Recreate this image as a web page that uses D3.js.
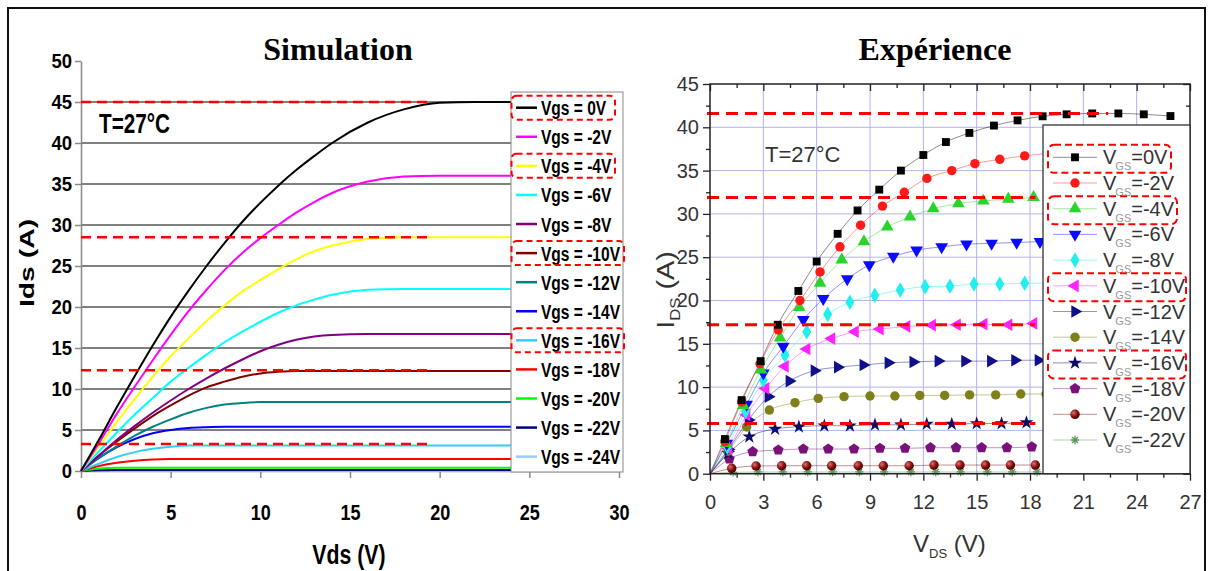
<!DOCTYPE html>
<html><head><meta charset="utf-8">
<script src="https://cdn.jsdelivr.net/npm/d3@7"></script>
<style>body{margin:0;background:#fff}svg{display:block}</style>
</head><body><svg id="c" width="1213" height="571"></svg>
<script>
// ---------- Simulation data ----------
const simVds = [0,1,2,3,4,5,6,7,8,9,10,11,12,13,14,16,18,20,22,24];
const simLabels = ["Vgs = 0V","Vgs = -2V","Vgs = -4V","Vgs = -6V","Vgs = -8V","Vgs = -10V","Vgs = -12V","Vgs = -14V","Vgs = -16V","Vgs = -18V","Vgs = -20V","Vgs = -22V","Vgs = -24V"];
const simIds0  = [0,3.8,7.8,11.6,15.3,18.8,22.0,25.0,27.8,30.4,32.7,34.8,36.7,38.4,40.0,42.5,44.1,44.9,45,45];
const simIds2  = [0,3.4,7.0,10.3,13.5,16.6,19.5,22.1,24.5,26.6,28.4,30.0,31.5,32.8,33.9,35.3,35.9,36,36,36];
const simIds4  = [0,3.0,6.0,8.8,11.5,14.0,16.2,18.3,20.2,21.9,23.3,24.6,25.8,26.8,27.5,28.3,28.5,28.5,28.5,28.5];
const simIds6  = [0,2.4,4.7,6.9,8.9,10.9,12.6,14.2,15.7,17.0,18.2,19.3,20.2,20.9,21.5,22.1,22.2,22.2,22.2,22.2];
const simIds8  = [0,1.9,3.8,5.5,7.1,8.6,10.0,11.3,12.5,13.6,14.6,15.4,16.0,16.4,16.6,16.7,16.7,16.7,16.7,16.7];
const simIds10 = [0,1.9,3.6,5.2,6.7,8.0,9.2,10.2,10.9,11.5,11.9,12.1,12.2,12.2,12.2,12.2,12.2,12.2,12.2,12.2];
const simIds12 = [0,1.6,3.0,4.3,5.4,6.3,7.1,7.7,8.1,8.3,8.4,8.4,8.4,8.4,8.4,8.4,8.4,8.4,8.4,8.4];
const simIds14 = [0,1.6,2.9,3.9,4.6,5.0,5.25,5.35,5.4,5.4,5.4,5.4,5.4,5.4,5.4,5.4,5.4,5.4,5.4,5.4];
const simIds16 = [0,0.9,1.7,2.3,2.7,2.95,3.1,3.1,3.1,3.1,3.1,3.1,3.1,3.1,3.1,3.1,3.1,3.1,3.1,3.1];
const simIds18 = [0,0.6,1.0,1.25,1.4,1.45,1.45,1.45,1.45,1.45,1.45,1.45,1.45,1.45,1.45,1.45,1.45,1.45,1.45,1.45];
const simIds20 = [0,0.3,0.4,0.4,0.4,0.4,0.4,0.4,0.4,0.4,0.4,0.4,0.4,0.4,0.4,0.4,0.4,0.4,0.4,0.4];
const simIds22 = [0,0.1,0.12,0.12,0.12,0.12,0.12,0.12,0.12,0.12,0.12,0.12,0.12,0.12,0.12,0.12,0.12,0.12,0.12,0.12];
const simIds24 = [0,0.03,0.04,0.04,0.04,0.04,0.04,0.04,0.04,0.04,0.04,0.04,0.04,0.04,0.04,0.04,0.04,0.04,0.04,0.04];
const simSeries = [simIds0,simIds2,simIds4,simIds6,simIds8,simIds10,simIds12,simIds14,simIds16,simIds18,simIds20,simIds22,simIds24];
const simColors = ["#000000","#ff00ff","#ffff00","#00ffff","#800080","#800000","#008080","#0000ff","#33ccff","#ff0000","#00ff00","#000080","#99ccff"];
const simTicksY = [0,5,10,15,20,25,30,35,40,45,50];
const simTicksX = [0,5,10,15,20,25,30];
const simGridY = [5,10,15,20,25,30,35,40,45];
const simDashLevels = [45,28.5,12.3,3.3];
const simDashEnd = 19.3;
const simBoxed = [0,2,5,8];

// ---------- Experimental data ----------
const expLabels = ["=0V","=-2V","=-4V","=-6V","=-8V","=-10V","=-12V","=-14V","=-16V","=-18V","=-20V","=-22V"];
const expV0  = [0,0.84,1.78,2.85,3.81,4.97,6.0,7.18,8.3,9.52,10.74,12.0,13.27,14.59,15.97,17.3,18.71,20.06,21.5,22.97,24.4,25.9];
const expI0  = [0,4.0,8.5,13.0,17.2,21.1,24.5,27.7,30.4,32.8,35.0,36.8,38.3,39.35,40.2,40.8,41.27,41.5,41.6,41.6,41.5,41.3];
const expV2  = [0,0.84,1.78,2.81,3.84,5.06,6.19,7.31,8.47,9.7,10.93,12.2,13.6,14.9,16.3,17.7,19.1];
const expI2  = [0,3.7,8.3,12.7,16.6,20.0,23.3,26.2,28.7,30.9,32.5,34.1,35.0,35.8,36.3,36.7,37.0];
const expV4  = [0,0.9,1.87,2.87,3.94,5.02,6.19,7.41,8.66,9.97,11.25,12.56,13.97,15.37,16.78,18.2];
const expI4  = [0,3.5,7.9,12.0,15.7,19.2,22.0,24.7,26.8,28.5,29.65,30.6,31.2,31.5,31.7,31.9];
const expV6  = [0,0.94,2.06,3.0,4.12,5.25,6.37,7.72,8.96,10.31,11.62,13.03,14.43,15.84,17.25,18.56];
const expI6  = [0,3.5,8.0,11.6,14.7,17.8,20.2,22.5,24.1,25.1,25.8,26.2,26.5,26.6,26.7,26.8];
const expV8  = [0,0.97,2.0,3.0,4.22,5.44,6.62,7.87,9.27,10.7,12.1,13.5,14.85,16.3,17.7,19.1];
const expI8  = [0,3.1,7.2,10.8,13.7,16.4,18.4,19.8,20.6,21.2,21.6,21.65,21.9,21.9,22.0,22.0];
const expV10 = [0,1.05,2.06,3.13,4.22,5.44,6.84,8.16,9.56,11.06,12.5,13.9,15.4,16.8,18.2];
const expI10 = [0,2.9,6.8,9.85,12.4,14.4,15.6,16.4,16.7,17.0,17.15,17.2,17.27,17.2,17.35];
const expV12 = [0,1.03,2.16,3.28,4.46,5.87,7.18,8.62,10.03,11.43,12.84,14.34,15.79,17.15,18.47];
const expI12 = [0,2.8,6.2,8.9,10.7,11.9,12.3,12.55,12.8,12.9,13.0,13.0,13.0,13.1,13.1];
const expV14 = [0,1.03,2.06,3.34,4.78,6.09,7.54,9.0,10.4,11.8,13.2,14.6,16.07,17.48,18.9];
const expI14 = [0,2.6,5.4,7.35,8.2,8.7,8.9,8.97,8.97,9.04,9.04,9.1,9.1,9.2,9.2];
const expV16 = [0,1.03,2.21,3.66,5.0,6.43,7.87,9.28,10.74,12.19,13.6,15.0,16.4,17.8];
const expI16 = [0,2.35,4.27,5.16,5.42,5.54,5.54,5.65,5.65,5.73,5.73,5.8,5.8,5.9];
const expV18 = [0,1.09,2.4,3.84,5.25,6.65,8.1,9.56,10.97,12.4,13.84,15.28,16.7,18.1];
const expI18 = [0,1.7,2.54,2.73,2.85,2.85,2.85,2.93,2.93,3.0,3.0,3.0,3.0,3.1];
const expV20 = [0,1.22,2.59,4.03,5.44,6.84,8.34,9.75,11.2,12.6,14.06,15.5,16.9,18.3];
const expI20 = [0,0.62,0.89,0.92,0.92,0.92,0.92,0.92,0.92,1.0,1.0,1.0,1.0,1.0];
const expV22 = [0,1.3,2.7,4.1,5.5,6.9,8.4,9.8,11.3,12.7,14.1,15.6,17.0,18.4];
const expI22 = [0,0.15,0.2,0.2,0.2,0.2,0.2,0.2,0.2,0.2,0.2,0.2,0.2,0.2];
const expVs = [expV0,expV2,expV4,expV6,expV8,expV10,expV12,expV14,expV16,expV18,expV20,expV22];
const expIs = [expI0,expI2,expI4,expI6,expI8,expI10,expI12,expI14,expI16,expI18,expI20,expI22];
const expColors = ["#000000","#ff1a1a","#2ad42a","#0a0aff","#22eeee","#ff22ff","#10108a","#80801a","#0c0c66","#7a107a","#800000","#5a9a5a"];
const expShapes = ["square","circle","triUp","triDown","diamond","triLeft","triRight","circle","star","pentagon","sphere","asterisk"];
const expTicksY = [0,5,10,15,20,25,30,35,40,45];
const expMinorY = [2.5,7.5,12.5,17.5,22.5,27.5,32.5,37.5,42.5];
const expTicksX = [0,3,6,9,12,15,18,21,24,27];
const expMinorX = [1.5,4.5,7.5,10.5,13.5,16.5,19.5,22.5,25.5];
const expDashLevels = [41.6,31.9,17.2,5.8];
const expDashEnds = [22.4,18.3,18.3,18.3];
const expBoxed = [0,2,5,8];

const svg = d3.select("#c");
const defs = svg.append("defs");
const rg = defs.append("radialGradient").attr("id","sph").attr("cx","35%").attr("cy","35%").attr("r","65%");
rg.append("stop").attr("offset","0%").attr("stop-color","#e07070");
rg.append("stop").attr("offset","60%").attr("stop-color","#8a1010");
rg.append("stop").attr("offset","100%").attr("stop-color","#500000");

const SANS = "'Liberation Sans', Arial, sans-serif";
const SERIF = "'Liberation Serif', 'Times New Roman', serif";

// outer frame
svg.append("rect").attr("x",8).attr("y",8).attr("width",1197).attr("height",600)
  .attr("fill","none").attr("stroke","#111").attr("stroke-width",2);

// titles
svg.append("text").attr("x",338).attr("y",60).attr("text-anchor","middle")
  .style("font-family",SERIF).style("font-weight","bold").style("font-size","32px").text("Simulation");
svg.append("text").attr("x",935).attr("y",60).attr("text-anchor","middle")
  .style("font-family",SERIF).style("font-weight","bold").style("font-size","32px").text("Expérience");

// ================= LEFT PANEL =================
const xL = d3.scaleLinear().domain([0,30]).range([81,619]);
const yL = d3.scaleLinear().domain([0,50]).range([471,61]);
const gL = svg.append("g");
gL.selectAll("line.grid").data(simGridY).join("line")
  .attr("x1",xL(0)).attr("x2",xL(30)).attr("y1",d=>yL(d)).attr("y2",d=>yL(d))
  .attr("stroke","#000").attr("stroke-width",1);

const axL = gL.append("g").attr("transform",`translate(${xL(0)},0)`)
  .call(d3.axisLeft(yL).tickValues(simTicksY).tickSize(6).tickSizeOuter(0));
const axB = gL.append("g").attr("transform",`translate(0,${yL(0)})`)
  .call(d3.axisBottom(xL).tickValues(simTicksX).tickSize(7).tickSizeOuter(0));
[axL,axB].forEach(a=>{
  a.select(".domain").attr("stroke","#888").attr("stroke-width",1.5);
  a.selectAll(".tick line").attr("stroke","#888").attr("stroke-width",1.5);
  a.selectAll("text").style("font-family",SANS).style("font-weight","bold").attr("fill","#000");
});
axL.selectAll("text").style("font-size","21px").attr("x",-9/0.88).attr("transform","scale(0.88,1)");
axB.selectAll("text").style("font-size","22px").attr("y",49).attr("dy",0).attr("transform","scale(0.82,1)");

const lineL = d3.line().x(d=>xL(d[0])).y(d=>yL(d[1])).curve(d3.curveMonotoneX);
const simData = simSeries.map(s=>simVds.map((v,i)=>[v,s[i]]));
gL.selectAll("path.sim").data(simData.slice().reverse()).join("path")
  .attr("d",lineL).attr("fill","none")
  .attr("stroke",(d,i)=>simColors[simColors.length-1-i]).attr("stroke-width",2);

gL.selectAll("line.dash").data(simDashLevels).join("line")
  .attr("x1",xL(0)).attr("x2",xL(simDashEnd)).attr("y1",d=>yL(d)).attr("y2",d=>yL(d))
  .attr("stroke","#ff0000").attr("stroke-width",2.5).attr("stroke-dasharray","10,6");

gL.append("text").attr("transform","translate(99,133) scale(0.74,1)")
  .style("font-family",SANS).style("font-weight","bold").style("font-size","28px").text("T=27°C");
gL.append("text").attr("transform","translate(34,263) rotate(-90) scale(1.35,1)").attr("text-anchor","middle")
  .style("font-family",SANS).style("font-weight","bold").style("font-size","21px").text("Ids (A)");
gL.append("text").attr("transform","translate(349,564) scale(0.76,1)").attr("text-anchor","middle")
  .style("font-family",SANS).style("font-weight","bold").style("font-size","28px").text("Vds (V)");

// left legend
const legL = gL.append("g");
legL.append("rect").attr("x",511).attr("y",92).attr("width",112).attr("height",380)
  .attr("fill","#fff").attr("stroke","#888").attr("stroke-width",1);
const rowL = i => 107.7 + 29.08*i;
simLabels.forEach((lab,i)=>{
  legL.append("line").attr("x1",516).attr("x2",537).attr("y1",rowL(i)).attr("y2",rowL(i))
    .attr("stroke",simColors[i]).attr("stroke-width",2.5);
  legL.append("text").attr("transform",`translate(541,${rowL(i)+7.5}) scale(0.74,1)`)
    .style("font-family",SANS).style("font-weight","bold").style("font-size","21px").text(lab);
});
simBoxed.forEach(i=>{
  const w = i<4 ? 103.5 : 112.5;
  legL.append("rect").attr("x",511.5).attr("y",rowL(i)-12).attr("width",w).attr("height",24)
    .attr("rx",5).attr("fill","none").attr("stroke","#ff0000").attr("stroke-width",2).attr("stroke-dasharray","6,4");
});

// ================= RIGHT PANEL =================
const xR = d3.scaleLinear().domain([0,27]).range([710,1190]);
const yR = d3.scaleLinear().domain([0,45]).range([473.7,84]);
const gR = svg.append("g");
const gridC = "#b4b4ea";
gR.selectAll("line.gx").data(expTicksX.slice(1,-1)).join("line")
  .attr("x1",d=>xR(d)).attr("x2",d=>xR(d)).attr("y1",yR(0)).attr("y2",yR(45))
  .attr("stroke",gridC).attr("stroke-width",1);
gR.selectAll("line.gy").data(expTicksY.slice(1,-1)).join("line")
  .attr("x1",xR(0)).attr("x2",xR(27)).attr("y1",d=>yR(d)).attr("y2",d=>yR(d))
  .attr("stroke",gridC).attr("stroke-width",1);

function styleAx(a){
  a.select(".domain").remove();
  a.selectAll(".tick line").attr("stroke","#222").attr("stroke-width",1.3);
  a.selectAll("text").style("font-family",SANS).style("font-size","20px").attr("fill","#333");
}
const rL = gR.append("g").attr("transform",`translate(${xR(0)},0)`).call(d3.axisLeft(yR).tickValues(expTicksY).tickSize(7).tickPadding(4));
const rLm = gR.append("g").attr("transform",`translate(${xR(0)},0)`).call(d3.axisLeft(yR).tickValues(expMinorY).tickSize(4).tickFormat(""));
const rB = gR.append("g").attr("transform",`translate(0,${yR(0)})`).call(d3.axisBottom(xR).tickValues(expTicksX).tickSize(7));
const rBm = gR.append("g").attr("transform",`translate(0,${yR(0)})`).call(d3.axisBottom(xR).tickValues(expMinorX).tickSize(4).tickFormat(""));
const rT = gR.append("g").attr("transform",`translate(0,${yR(45)})`).call(d3.axisTop(xR).tickValues(expTicksX).tickSize(-7).tickFormat(""));
const rTm = gR.append("g").attr("transform",`translate(0,${yR(45)})`).call(d3.axisTop(xR).tickValues(expMinorX).tickSize(-4).tickFormat(""));
const rR = gR.append("g").attr("transform",`translate(${xR(27)},0)`).call(d3.axisRight(yR).tickValues(expTicksY).tickSize(-7).tickFormat(""));
const rRm = gR.append("g").attr("transform",`translate(${xR(27)},0)`).call(d3.axisRight(yR).tickValues(expMinorY).tickSize(-4).tickFormat(""));
[rL,rLm,rB,rBm,rT,rTm,rR,rRm].forEach(styleAx);
rB.selectAll("text").attr("y",35).attr("dy",0);

// connecting lines and markers
const lineR = d3.line().x(d=>xR(d[0])).y(d=>yR(d[1])).curve(d3.curveMonotoneX);
const symPent = {draw(ctx,size){const r=Math.sqrt(size/2.378);for(let k=0;k<5;k++){const a=-Math.PI/2+k*2*Math.PI/5;const x=r*Math.cos(a),y=r*Math.sin(a);k?ctx.lineTo(x,y):ctx.moveTo(x,y);}ctx.closePath();}};
const symAst = {draw(ctx,size){const r=Math.sqrt(size)/2;for(let k=0;k<4;k++){const a=k*Math.PI/4;ctx.moveTo(-r*Math.cos(a),-r*Math.sin(a));ctx.lineTo(r*Math.cos(a),r*Math.sin(a));}}};
function drawMarker(g,shape,color,x,y){
  let type=d3.symbolSquare,size=62,rot=0;
  if(shape==="circle"||shape==="sphere"){type=d3.symbolCircle;size=70;}
  if(shape==="triUp"){type=d3.symbolTriangle;size=70;}
  if(shape==="triDown"){type=d3.symbolTriangle;size=70;rot=180;}
  if(shape==="triLeft"){type=d3.symbolTriangle;size=70;rot=-90;}
  if(shape==="triRight"){type=d3.symbolTriangle;size=70;rot=90;}
  if(shape==="diamond"){type=d3.symbolDiamond;size=70;}
  if(shape==="star"){type=d3.symbolStar;size=60;}
  if(shape==="pentagon"){type=symPent;size=75;}
  if(shape==="asterisk"){type=symAst;size=70;}
  const p=g.append("path").attr("d",d3.symbol().type(type).size(size)())
    .attr("transform",`translate(${x},${y}) rotate(${rot})`);
  if(shape==="asterisk") p.attr("fill","none").attr("stroke",color).attr("stroke-width",1.3);
  else p.attr("fill",shape==="sphere"?"url(#sph)":color);
}
const gData = gR.append("g");
expVs.forEach((vs,s)=>{
  const pts = vs.map((v,i)=>[v,expIs[s][i]]);
  gData.append("path").attr("d",lineR(pts)).attr("fill","none")
    .attr("stroke",expColors[s]).attr("stroke-opacity",0.45).attr("stroke-width",1);
});
expVs.slice().reverse().forEach((vs,r)=>{
  const s = expVs.length-1-r;
  vs.forEach((v,i)=>{ if(i>0) drawMarker(gData,expShapes[s],expColors[s],xR(v),yR(expIs[s][i])); });
});

// dashed lines
gR.selectAll("line.dash").data(expDashLevels).join("line")
  .attr("x1",xR(0)-3).attr("x2",(d,i)=>xR(expDashEnds[i])).attr("y1",d=>yR(d)).attr("y2",d=>yR(d))
  .attr("stroke","#ff0000").attr("stroke-width",3).attr("stroke-dasharray","12,7");

// frame
gR.append("rect").attr("x",xR(0)).attr("y",yR(45)).attr("width",xR(27)-xR(0)).attr("height",yR(0)-yR(45))
  .attr("fill","none").attr("stroke","#222").attr("stroke-width",1.5);

// legend right
const legR = gR.append("g");
legR.append("rect").attr("x",1043).attr("y",125).attr("width",147).attr("height",yR(0)-125)
  .attr("fill","#fff").attr("stroke","#222").attr("stroke-width",1.2);
const rowR = i => 157.3 + 25.7*i;
expLabels.forEach((lab,i)=>{
  legR.append("line").attr("x1",1053).attr("x2",1097).attr("y1",rowR(i)).attr("y2",rowR(i))
    .attr("stroke",expColors[i]).attr("stroke-opacity",0.45).attr("stroke-width",1);
  drawMarker(legR,expShapes[i],expColors[i],1075,rowR(i));
  const t = legR.append("text").attr("x",1103).attr("y",rowR(i)+7)
    .style("font-family",SANS).style("font-size","20px").attr("fill","#333");
  t.append("tspan").text("V");
  t.append("tspan").attr("dy",6).attr("dx",-1).style("font-size","11px").attr("fill","#999").text("GS");
  t.append("tspan").attr("dy",-6).text(lab);
});
expBoxed.forEach(i=>{
  const w = i===0 ? 123 : (i===2 ? 129 : 138);
  legR.append("rect").attr("x",1048).attr("y",rowR(i)-12.5).attr("width",w).attr("height",28)
    .attr("rx",6).attr("fill","none").attr("stroke","#ff0000").attr("stroke-width",2).attr("stroke-dasharray","7,4");
});

// texts
gR.append("text").attr("x",765).attr("y",162).style("font-family",SANS).style("font-size","22px").attr("fill","#333").text("T=27°C");
const yt = gR.append("text").attr("transform","translate(674,290) rotate(-90) scale(1.2,1)").attr("text-anchor","middle")
  .style("font-family",SANS).style("font-size","24px").attr("fill","#333");
yt.append("tspan").text("I");
yt.append("tspan").attr("dy",6).style("font-size","14px").text("DS");
yt.append("tspan").attr("dy",-6).text(" (A)");
const xt = gR.append("text").attr("x",913).attr("y",552)
  .style("font-family",SANS).style("font-size","24px").attr("fill","#333");
xt.append("tspan").text("V");
xt.append("tspan").attr("dy",6).style("font-size","13px").text("DS");
xt.append("tspan").attr("dy",-6).text(" (V)");
</script></body></html>
